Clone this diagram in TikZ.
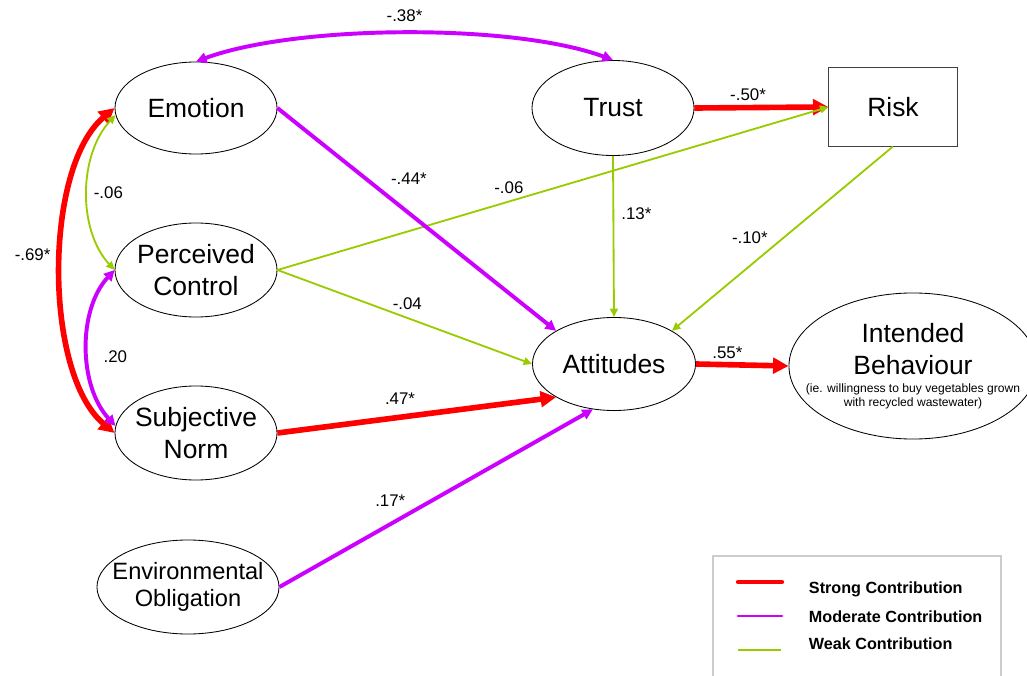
\documentclass[tikz,border=0pt]{standalone}
\usepackage{fontspec}
\setmainfont{Liberation Sans}
\usetikzlibrary{shapes.geometric, arrows.meta, positioning}
\definecolor{strongred}{HTML}{FF0000}
\definecolor{modpurple}{HTML}{CC00FF}
\definecolor{weakgreen}{HTML}{99CC00}
\newcommand{\ibsmall}{\fontsize{8.6pt}{10pt}\selectfont}
\tikzstyle{latent}     = [ellipse, draw=black, line width=0.6pt, inner sep=0pt, inner xsep=-14pt,
                          align=center, font=\fontsize{18.8pt}{22.8pt}\selectfont]
\tikzstyle{observed}   = [rectangle, draw=black!75, line width=0.7pt, minimum width=3.2cm,
                          minimum height=1.95cm, font=\fontsize{18.8pt}{22.8pt}\selectfont]
\tikzstyle{strongpath} = [draw=strongred, line width=4pt, >={Triangle[length=11pt,width=11pt]}, ->]
\tikzstyle{modpath}    = [draw=modpurple, line width=2.8pt, >={Triangle[length=7.5pt,width=7.5pt]}, ->]
\tikzstyle{weakpath}   = [draw=weakgreen, line width=1.3pt, >={Triangle[length=6pt,width=5.5pt]}, ->]
\tikzstyle{coef}       = [font=\fontsize{12pt}{14pt}\selectfont, inner sep=2pt, text=black]
\tikzstyle{legtext}    = [anchor=west, font=\fontsize{11.5pt}{13pt}\selectfont\bfseries]

\begin{document}
\begin{tikzpicture}[x=0.025cm, y=-0.025cm]
    \useasboundingbox (0,0) rectangle (1027,676);

    \node (emotion) [latent, minimum width=4.05cm, minimum height=2.3cm] at (196,108) {Emotion};
    \node (control) [latent, minimum width=4.05cm, minimum height=2.35cm] at (196,270) {Perceived\\Control};
    \node (norm) [latent, minimum width=4.05cm, minimum height=2.35cm] at (196,433) {Subjective\\Norm};
    \node (oblig) [latent, minimum width=4.55cm, minimum height=2.35cm,
                   font=\fontsize{16.8pt}{18.8pt}\selectfont] at (188,587) {Environmental\\Obligation};
    \node (trust) [latent, minimum width=4.05cm, minimum height=2.375cm] at (613,108) {Trust};
    \node (risk) [observed] at (893,107) {Risk};
    \node (attitudes) [latent, minimum width=4.075cm, minimum height=2.325cm] at (614,364) {Attitudes};
    \node (intent) [latent, minimum width=6.2cm, minimum height=3.65cm] at (913,366)
        {Intended\\Behaviour\\[-10pt]\ibsmall (ie. willingness to buy vegetables grown\\[-12.8pt]\ibsmall with recycled wastewater)};

    % correlations
    \draw[modpath, <->] (emotion.north) .. controls +(100,-37) and +(-100,-37) .. node[coef, pos=0.5, above=4.5pt] (c38) {-.38*} (trust.north);
    \draw[strongpath, <->] (emotion.west) .. controls +(-71,60) and +(-71,-60) .. node[coef, pos=0.46, left=4pt] (c69) {-.69*} (norm.west);
    \draw[weakpath, <->] (emotion.185) .. controls +(-37,40) and +(-37,-40) .. node[coef, pos=0.5, right=2pt] (c06a) {-.06} (control.west);
    \draw[modpath, <->] (control.west) .. controls +(-37,40) and +(-37,-40) .. node[coef, pos=0.55, right=8pt] (c20) {.20} (norm.175);

    % paths
    \draw[strongpath] (trust.east) -- node[coef, pos=0.4, above=1pt] (c50) {-.50*} (risk.west);
    \draw[weakpath] (control.east) -- node[coef, pos=0.42, above=3pt] (c06b) {-.06} (risk.west);
    \draw[modpath] (emotion.east) -- node[coef, pos=0.38, above right=3pt] (c44) {-.44*} (attitudes.north west);
    \draw[weakpath] (trust.south) -- node[coef, pos=0.36, right=3pt] (c13) {.13*} (attitudes.north);
    \draw[weakpath] (risk.south) -- node[coef, pos=0.55, above left=0pt] (c10) {-.10*} (attitudes.north east);
    \draw[weakpath] (control.east) -- node[coef, pos=0.51, above=3pt] (c04) {-.04} (attitudes.west);
    \draw[strongpath] (norm.east) -- node[coef, pos=0.44, above=5pt] (c47) {.47*} (attitudes.south west);
    \draw[modpath] (oblig.east) -- node[coef, pos=0.42, above left=1pt] (c17) {.17*} (attitudes.245);
    \draw[strongpath] (attitudes.east) -- node[coef, pos=0.34, above=0pt] (c55) {.55*} (intent.west);

    % legend
    \draw[black!20, line width=0.8pt] (713,556) rectangle (1001,700);
    \node (legstrong) [legtext] at (804,589.5) {Strong Contribution};
    \node (legmod) [legtext] at (804,617) {Moderate Contribution};
    \node (legweak) [legtext] at (804,644) {Weak Contribution};
    \draw[strongred, line width=3pt, line cap=round] (738,582) -- (782,582);
    \draw[modpurple, line width=2pt, line cap=round] (738,616) -- (782,616);
    \draw[weakgreen, line width=1pt] (738,650) -- (781,650);
\end{tikzpicture}
\end{document}
